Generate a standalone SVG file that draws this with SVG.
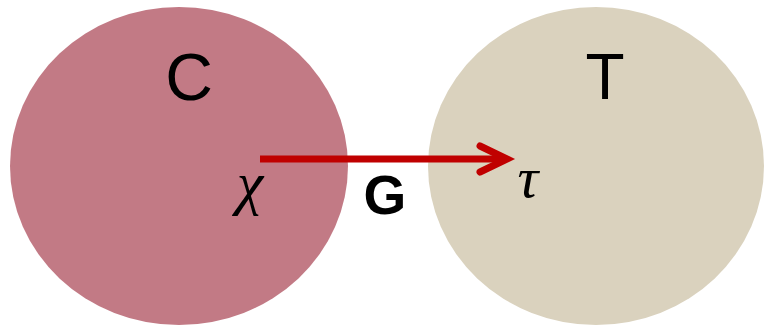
<svg xmlns="http://www.w3.org/2000/svg" width="764" height="326" viewBox="0 0 764 326">
<style>
.lbl{font-family:"Liberation Sans",Arial,sans-serif;fill:#000;text-anchor:middle}
.greek{font-family:"Liberation Serif","Times New Roman",serif;fill:#000;text-anchor:middle;font-style:italic}
.conn{stroke:#C00000;stroke-width:7;fill:none;stroke-linecap:butt}
.head{stroke:#C00000;stroke-width:7;fill:none;stroke-linecap:round;stroke-linejoin:miter}
</style>
<rect width="764" height="326" fill="#fff"/>
<g id="node-C">
<ellipse cx="179" cy="166" rx="169" ry="159" fill="#C27A85"/>
<text class="lbl" x="189" y="100" font-size="66">C</text>
<text class="greek" x="250" y="203" font-size="60">χ</text>
</g>
<g id="node-T">
<ellipse cx="596" cy="166" rx="168" ry="159" fill="#DAD2BE"/>
<text class="lbl" x="605" y="99" font-size="64">T</text>
<text class="greek" x="528" y="197" font-size="58">τ</text>
</g>
<g id="connectors">
<line class="conn" x1="260" y1="159" x2="506" y2="159"/>
<polyline class="head" points="480,146 507,159 480,172"/>
<text class="lbl" x="385" y="214" font-size="55" font-weight="bold">G</text>
</g>
</svg>
